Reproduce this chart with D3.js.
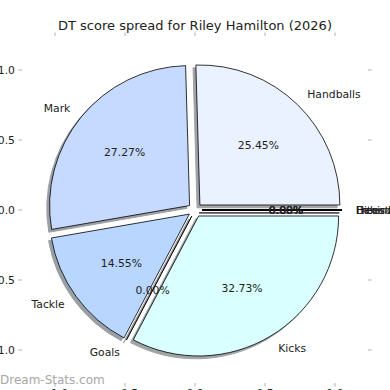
<!DOCTYPE html>
<html>
<head>
<meta charset="utf-8">
<script src="https://cdn.jsdelivr.net/npm/d3@7"></script>
<style>
  body { margin: 0; background: #fff; }
  text { font-family: "DejaVu Sans", sans-serif; }
</style>
</head>
<body>
<div id="chart"></div>
<script>
// Data
var stats = ["Handballs", "Mark", "Tackle", "Goals", "Kicks", "Behinds", "Hitouts", "Frees For", "Frees Against"];
var points = [14, 15, 8, 0, 18, 0, 0, 0, 0];
var colours = ["#eaf1ff", "#c6daff", "#b8d6ff", "#c0ddff", "#d9ffff", "#e6f0ff", "#e6f0ff", "#e6f0ff", "#e6f0ff"];
var tickValues = [-1, -0.5, 0, 0.5, 1];

var svgWidth = 390;
var svgHeight = 390;

var svg = d3.select("#chart")
  .append("svg")
  .attr("width", svgWidth)
  .attr("height", svgHeight);

// data coords -> pixels (equal aspect)
var xScale = d3.scaleLinear().domain([-1, 1]).range([55, 335]);
var yScale = d3.scaleLinear().domain([-1, 1]).range([350, 70]);
var radius = xScale(1) - xScale(0);

var box = { left: xScale(-1.236), right: xScale(1.236), top: yScale(1.243), bottom: yScale(-1.236) };

// Title
svg.append("text")
  .attr("x", xScale(0))
  .attr("y", 30)
  .attr("text-anchor", "middle")
  .style("font-size", "13px")
  .style("fill", "#222")
  .text("DT score spread for Riley Hamilton (2026)");

// Ticks on all four sides, labels left and bottom
var tickCol = "#b0b0b0";
var tl = 3.5;
tickValues.forEach(function(v) {
  svg.append("line").attr("x1", xScale(v)).attr("x2", xScale(v))
    .attr("y1", box.top).attr("y2", box.top - tl).attr("stroke", tickCol);
  svg.append("line").attr("x1", xScale(v)).attr("x2", xScale(v))
    .attr("y1", box.bottom).attr("y2", box.bottom + tl).attr("stroke", tickCol);
  svg.append("line").attr("y1", yScale(v)).attr("y2", yScale(v))
    .attr("x1", box.left).attr("x2", box.left - tl).attr("stroke", tickCol);
  svg.append("line").attr("y1", yScale(v)).attr("y2", yScale(v))
    .attr("x1", box.right).attr("x2", box.right + tl).attr("stroke", tickCol);
});

var fmt = d3.format(".1f");
svg.append("g").selectAll("text")
  .data(tickValues)
  .enter()
  .append("text")
  .attr("x", box.left - tl - 3.5)
  .attr("y", d => yScale(d))
  .attr("dy", "0.35em")
  .attr("text-anchor", "end")
  .style("font-size", "10.8px")
  .style("fill", "#222")
  .text(d => fmt(d).replace("-", "\u2212"));

svg.append("g").selectAll("text")
  .data(tickValues)
  .enter()
  .append("text")
  .attr("x", d => xScale(d))
  .attr("y", 388.5)
  .attr("dy", "0.75em")
  .attr("text-anchor", "middle")
  .style("font-size", "10.8px")
  .style("fill", "#222")
  .text(d => fmt(d).replace("-", "\u2212"));

// Pie, counter-clockwise from 3 o'clock like matplotlib
var pie = d3.pie().sort(null).value(d => d.v)
  .startAngle(Math.PI / 2)
  .endAngle(Math.PI / 2 - 2 * Math.PI);

var rows = stats.map((s, i) => ({ name: s, v: points[i], col: colours[i] }));
var arcs = pie(rows);
var total = d3.sum(points);

var arc = d3.arc().innerRadius(0).outerRadius(radius);
var explode = 0.05;

function midAngle(d) { return (d.startAngle + d.endAngle) / 2; }
function offset(d, k) {
  var a = midAngle(d);
  return [Math.sin(a) * radius * k, -Math.cos(a) * radius * k];
}

var cx = xScale(0), cy = yScale(0);
var pieGroup = svg.append("g").attr("transform", `translate(${cx}, ${cy})`);

function darker(c) {
  var rgb = d3.rgb(c);
  return d3.rgb(rgb.r * 0.3, rgb.g * 0.3, rgb.b * 0.3).toString();
}

// Shadows
var sh = 0.02 * radius;
pieGroup.selectAll("path.shadow")
  .data(arcs)
  .enter()
  .append("path")
  .attr("class", "shadow")
  .attr("d", arc)
  .attr("transform", d => { var o = offset(d, explode); return `translate(${o[0] - sh}, ${o[1] + sh})`; })
  .attr("fill", d => darker(d.data.col))
  .attr("stroke", d => darker(d.data.col))
  .attr("stroke-width", 1)
  .attr("opacity", 0.5);

// Wedges
pieGroup.selectAll("path.wedge")
  .data(arcs)
  .enter()
  .append("path")
  .attr("class", "wedge")
  .attr("d", arc)
  .attr("transform", d => { var o = offset(d, explode); return `translate(${o[0]}, ${o[1]})`; })
  .attr("fill", d => d.data.col)
  .attr("stroke", "#000")
  .attr("stroke-width", 0.8);

// Labels
pieGroup.selectAll("text.lbl")
  .data(arcs)
  .enter()
  .append("text")
  .attr("class", "lbl")
  .attr("x", d => offset(d, explode)[0] + Math.sin(midAngle(d)) * radius * 1.1)
  .attr("y", d => offset(d, explode)[1] - Math.cos(midAngle(d)) * radius * 1.1)
  .attr("dy", "0.35em")
  .attr("text-anchor", d => (offset(d, explode)[0] + Math.sin(midAngle(d)) * radius * 1.1) > 0 ? "start" : "end")
  .style("font-size", "10.8px")
  .style("fill", "#222")
  .text(d => d.data.name);

pieGroup.selectAll("text.pct")
  .data(arcs)
  .enter()
  .append("text")
  .attr("class", "pct")
  .attr("x", d => offset(d, explode)[0] + Math.sin(midAngle(d)) * radius * 0.6)
  .attr("y", d => offset(d, explode)[1] - Math.cos(midAngle(d)) * radius * 0.6)
  .attr("dy", "0.35em")
  .attr("text-anchor", "middle")
  .style("font-size", "10.8px")
  .style("fill", "#222")
  .text(d => (d.data.v / total * 100).toFixed(2) + "%");

// Watermark
svg.append("text")
  .attr("x", 0)
  .attr("y", 384)
  .style("font-size", "12px")
  .style("fill", "#999")
  .style("opacity", 0.85)
  .text("Dream-Stats.com");
</script>
</body>
</html>
